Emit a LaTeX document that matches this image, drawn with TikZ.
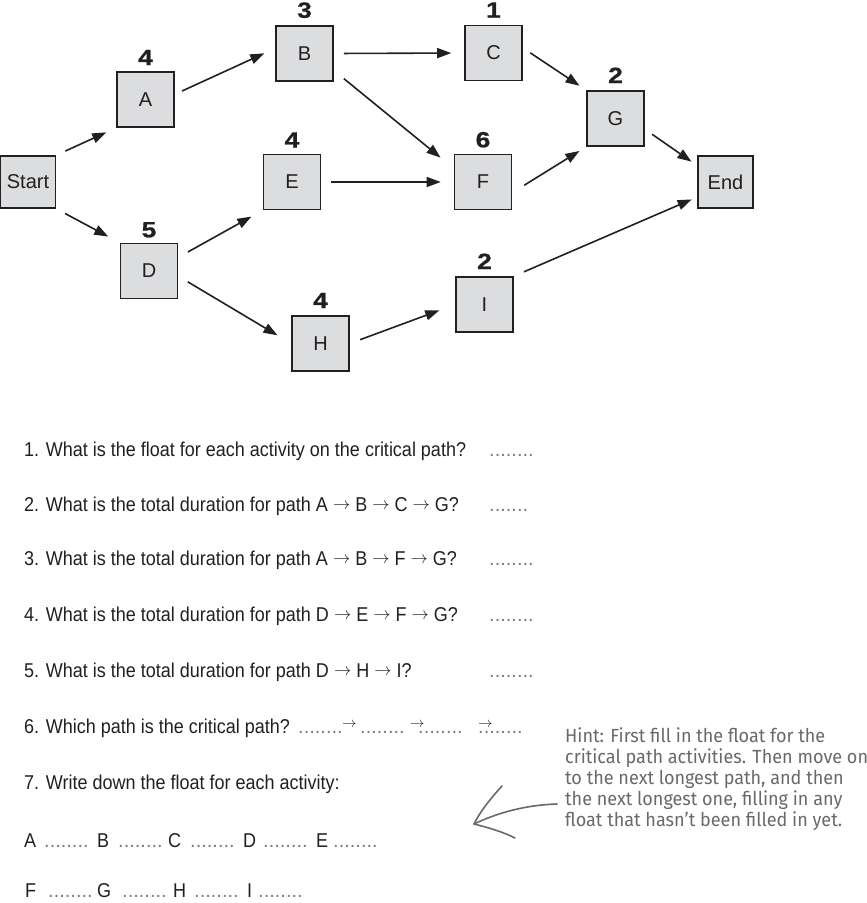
\documentclass[tikz,border=0pt]{standalone}
\usepackage{fontspec}
\setmainfont{Liberation Sans}
\newfontfamily\qfont[FakeStretch=0.9]{Liberation Sans}
\newfontfamily\numfont[FakeStretch=1.2,FakeBold=0.8]{Liberation Sans}
\newfontfamily\hintfont[FakeStretch=0.95]{Fira Sans}
\usetikzlibrary{arrows.meta,positioning}
\definecolor{lc}{RGB}{35,31,32}
\definecolor{boxfill}{RGB}{220,221,222}
\definecolor{dotgray}{RGB}{125,125,125}
\definecolor{hintgray}{RGB}{105,105,107}
\newcommand{\ar}{\raisebox{1.5pt}{\fontsize{17}{17}\selectfont$\rightarrow$}}
\newcommand{\sar}{$\rightarrow$}
\begin{document}
\begin{tikzpicture}[x=1pt,y=-1pt,
  box/.style={draw=lc, fill=boxfill, line width=1.6pt, minimum width=57pt, minimum height=55pt, inner sep=0pt, text=lc, font=\fontsize{20}{20}\selectfont},
  endbox/.style={box, minimum width=55pt, minimum height=52pt},
  num/.style={inner sep=0pt, text=lc, font=\numfont\bfseries\fontsize{22}{22}\selectfont},
  conn/.style={draw=lc, line width=1.6pt, -{Triangle[length=14pt,width=10pt]}, shorten <=10pt, shorten >=11pt},
  q/.style={anchor=base west, inner sep=0pt, text=lc, font=\qfont\fontsize{20}{20}\selectfont},
  dots/.style={anchor=base west, inner sep=0pt, text=dotgray, font=\fontsize{20}{20}\selectfont},
  sarrow/.style={anchor=base west, inner sep=0pt, text depth=0pt, text=lc, font=\fontsize{15}{15}\selectfont},
  hintline/.style={draw=hintgray, line width=1.6pt, line cap=round, line join=round}
]
\useasboundingbox (0,0) rectangle (867,903);

% activity boxes
\node[endbox] (S) at (28,182) {Start};
\node[box] (A) at (145.5,99.5) {A};
\node[box] (B) at (304.5,53.5) {B};
\node[box] (C) at (493.5,53) {C};
\node[box] (D) at (149,271) {D};
\node[box] (E) at (292,182) {E};
\node[box] (F) at (483,182) {F};
\node[box] (G) at (615.5,118.5) {G};
\node[box] (H) at (320.5,343.5) {H};
\node[box] (I) at (484.5,304.5) {I};
\node[endbox] (End) at (725.5,182) {End};

% durations
\node[num, above=6pt of A] (nA) {4};
\node[num, above=7pt of B] (nB) {3};
\node[num, above=7pt of C] (nC) {1};
\node[num, above=5pt of D] (nD) {5};
\node[num, above=6pt of E] (nE) {4};
\node[num, above=6pt of F] (nF) {6};
\node[num, above=7pt of G] (nG) {2};
\node[num, above=7pt of H] (nH) {4};
\node[num, above=7pt of I] (nI) {2};

% connectors
\draw[conn] (S.north east) -- (A.south west);
\draw[conn, shorten >=13pt] (S.south east) -- (D.north west);
\draw[conn, shorten <=8pt, shorten >=12pt] (A.10) -- (B.170);
\draw[conn, shorten >=13pt] (B.east) -- (C.west);
\draw[conn, shorten <=13pt, shorten >=17pt] (B.-30) -- (F.155);
\draw[conn, shorten >=13pt] (E.east) -- (F.west);
\draw[conn, shorten <=11pt, shorten >=13pt] (D.25) -- (E.south west);
\draw[conn, shorten <=11pt, shorten >=16pt] (D.-10) -- (H.west);
\draw[conn, shorten <=11pt, shorten >=17pt] (H.east) -- (I.west);
\draw[conn, shorten <=9pt, shorten >=8pt] (C.10) -- (G.north west);
\draw[conn, shorten <=14pt, shorten >=8pt] (F.-20) -- (G.south west);
\draw[conn, shorten <=9pt, shorten >=7pt] (G.-20) -- (End.150);
\draw[conn, shorten <=11pt, shorten >=6pt] (I.north east) -- (End.208);

% questions
\node[q] (q1) at (24,456) {1. What is the float for each activity on the critical path?};
\node[dots] (d1) at (489,456) {........};
\node[q] (q2) at (24,511) {2. What is the total duration for path A \ar{} B \ar{} C \ar{} G?};
\node[dots] (d2) at (489,511) {.......};
\node[q] (q3) at (24,565) {3. What is the total duration for path A \ar{} B \ar{} F \ar{} G?};
\node[dots] (d3) at (489,565) {........};
\node[q] (q4) at (24,621) {4. What is the total duration for path D \ar{} E \ar{} F \ar{} G?};
\node[dots] (d4) at (489,621) {........};
\node[q] (q5) at (24,677) {5. What is the total duration for path D \ar{} H \ar{} I?};
\node[dots] (d5) at (489,677) {........};
\node[q] (q6) at (24,733) {6. Which path is the critical path?};
\node[dots] (d6a) at (298,733) {........};
\node[sarrow] (a6a) at (342,727) {\sar};
\node[dots] (d6b) at (360,733) {........};
\node[sarrow] (a6b) at (410,727) {\sar};
\node[dots] (d6c) at (418,733) {........};
\node[sarrow] (a6c) at (478,727) {\sar};
\node[dots] (d6d) at (478,733) {........};
\node[q] (q7) at (24,789) {7. Write down the float for each activity:};

\node[q] (fA) at (24,847) {A};
\node[dots] (dA) at (44,847) {........};
\node[q] (fB) at (97,847) {B};
\node[dots] (dB) at (118,847) {........};
\node[q] (fC) at (168,847) {C};
\node[dots] (dC) at (190,847) {........};
\node[q] (fD) at (243,847) {D};
\node[dots] (dD) at (263,847) {........};
\node[q] (fE) at (316,847) {E};
\node[dots] (dE) at (333,847) {........};

\node[q] (fF) at (25,897) {F};
\node[dots] (dF) at (48,897) {........};
\node[q] (fG) at (97,897) {G};
\node[dots] (dG) at (122,897) {........};
\node[q] (fH) at (173,897) {H};
\node[dots] (dH) at (194,897) {........};
\node[q] (fI) at (247,897) {I};
\node[dots] (dI) at (258,897) {........};

% hint
\node[anchor=north west, inner sep=0pt, align=left, text=hintgray,
      font=\hintfont\fontsize{19}{21}\selectfont] (hint) at (565,727)
  {Hint: First fill in the float for the\\
   critical path activities. Then move on\\
   to the next longest path, and then\\
   the next longest one, filling in any\\
   float that hasn’t been filled in yet.};
\coordinate (hs) at (557,804);
\coordinate (ht) at (474,824);
\coordinate (hu) at (502,786);
\coordinate (hl) at (515,838);
\draw[hintline] (hs) .. controls (525,805) and (497,813) .. (ht);
\draw[hintline] (hu) .. controls (490,799) and (480,812) .. (ht) .. controls (490,828) and (503,832) .. (hl);
\end{tikzpicture}
\end{document}
